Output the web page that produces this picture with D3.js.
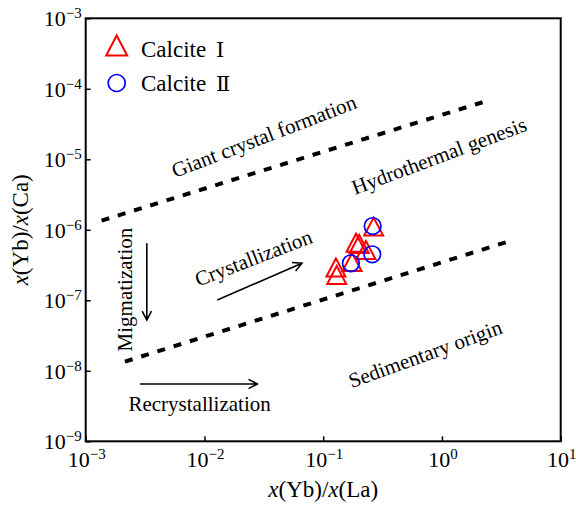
<!DOCTYPE html>
<html><head><meta charset="utf-8">
<script src="https://cdn.jsdelivr.net/npm/d3@7"></script>
<style>
body{margin:0;background:#fff}
svg{display:block}
text{font-family:"Liberation Serif","Times New Roman",Times,serif;fill:#000}
</style>
</head><body>
<svg id="chart" width="576" height="505"></svg>
<script>
// ---- data ----
const xTickExps = [-3, -2, -1, 0, 1];
const yTickExps = [-9, -8, -7, -6, -5, -4, -3];

const calciteIx = [0.266, 0.189, 0.201, 0.229, 0.175, 0.128, 0.130];
const calciteIy = [1.11e-6, 6.56e-7, 6.29e-7, 5.17e-7, 3.49e-7, 2.92e-7, 2.29e-7];
const calciteIIx = [0.261, 0.259, 0.171];
const calciteIIy = [1.13e-6, 4.49e-7, 3.35e-7];

// boundary lines (x, y pairs at ends)
const upperLineX = [1.36e-3, 2.5];
const upperLineY = [1.35e-6, 6.9e-5];
const lowerLineX = [2.14e-3, 3.8];
const lowerLineY = [1.35e-8, 7.0e-7];

// annotation labels (data coords of baseline start, rotation)
const labelTexts = ["Giant crystal formation", "Hydrothermal genesis", "Crystallization", "Sedimentary origin", "Recrystallization"];
const labelX = [5.65e-3, 0.185, 8.87e-3, 0.174, 2.29e-3];
const labelY = [5.43e-6, 3.12e-6, 1.56e-7, 5.65e-9, 2.69e-9];
const labelAngle = [-21, -20.5, -21, -20, 0];

const migText = "Migmatization";
const migX = 2.45e-3, migY = 1.42e-7;

// arrows: [x1, y1, x2, y2]
const arrowX1 = [0.01282, 3.27e-3, 2.86e-3];
const arrowY1 = [1.01e-7, 6.44e-7, 6.5e-9];
const arrowX2 = [0.0662, 3.27e-3, 0.0279];
const arrowY2 = [3.35e-7, 5.25e-8, 6.5e-9];

const legendNames = ["Calcite", "Calcite"];
const legendNumerals = ["\u2160", "\u2161"];

// ---- layout ----
const svg = d3.select("#chart");
const L = 85.7, R = 560.7, T = 18.3, B = 441.3;
const x = d3.scaleLog().domain([1e-3, 1e1]).range([L, R]);
const y = d3.scaleLog().domain([1e-9, 1e-3]).range([B, T]);
const SERIF = '"Liberation Serif","Times New Roman",Times,serif';

// ticks (inward)
const xAxis = d3.axisBottom(x).tickValues(xTickExps.map(e => Math.pow(10, e))).tickSize(-5).tickFormat("");
const yAxis = d3.axisLeft(y).tickValues(yTickExps.map(e => Math.pow(10, e))).tickSize(-5).tickFormat("");
const gx = svg.append("g").attr("transform", `translate(0,${B})`).call(xAxis);
const gy = svg.append("g").attr("transform", `translate(${L},0)`).call(yAxis);
[gx, gy].forEach(g => {
  g.select(".domain").remove();
  g.selectAll(".tick line").attr("stroke", "#000").attr("stroke-width", 1.5);
});

// frame
svg.append("rect").attr("x", L).attr("y", T).attr("width", R - L).attr("height", B - T)
  .attr("fill", "none").attr("stroke", "#000").attr("stroke-width", 2);

// tick labels
function powLabel(sel, e) {
  sel.append("tspan").text("10");
  sel.append("tspan").attr("dy", -8).attr("font-size", 15).text(e < 0 ? "\u2212" + (-e) : String(e));
}
xTickExps.forEach(e => {
  const t = svg.append("text").attr("x", x(Math.pow(10, e)) + 1).attr("y", B + 25.5)
    .attr("font-family", SERIF).attr("font-size", 22).attr("text-anchor", "middle");
  powLabel(t, e);
});
yTickExps.forEach(e => {
  const t = svg.append("text").attr("x", L - 4).attr("y", y(Math.pow(10, e)) + 7.7)
    .attr("font-family", SERIF).attr("font-size", 22).attr("text-anchor", "end");
  powLabel(t, e);
});

// axis titles
const xt = svg.append("text").attr("x", (L + R) / 2).attr("y", 497).attr("text-anchor", "middle")
  .attr("font-family", SERIF).attr("font-size", 23);
xt.append("tspan").attr("font-style", "italic").text("x");
xt.append("tspan").text("(Yb)/");
xt.append("tspan").attr("font-style", "italic").text("x");
xt.append("tspan").text("(La)");

const yt = svg.append("text").attr("transform", `translate(28,${(T + B) / 2}) rotate(-90)`).attr("text-anchor", "middle")
  .attr("font-family", SERIF).attr("font-size", 23);
yt.append("tspan").attr("font-style", "italic").text("x");
yt.append("tspan").text("(Yb)/");
yt.append("tspan").attr("font-style", "italic").text("x");
yt.append("tspan").text("(Ca)");

// dashed boundary lines
[[upperLineX, upperLineY], [lowerLineX, lowerLineY]].forEach(([lx, ly]) => {
  svg.append("line")
    .attr("x1", x(lx[0])).attr("y1", y(ly[0]))
    .attr("x2", x(lx[1])).attr("y2", y(ly[1]))
    .attr("stroke", "#000").attr("stroke-width", 4).attr("stroke-dasharray", "8 9");
});

// annotation labels
labelTexts.forEach((s, i) => {
  svg.append("text")
    .attr("transform", `translate(${x(labelX[i])},${y(labelY[i])}) rotate(${labelAngle[i]})`)
    .attr("font-family", SERIF).attr("font-size", 21).text(s);
});
svg.append("text")
  .attr("transform", `translate(${x(migX)},${y(migY)}) rotate(-90)`)
  .attr("font-family", SERIF).attr("text-anchor", "middle").attr("font-size", 21).text(migText);

// arrows
arrowX1.forEach((_, i) => {
  const x1 = x(arrowX1[i]), y1 = y(arrowY1[i]), x2 = x(arrowX2[i]), y2 = y(arrowY2[i]);
  const a = Math.atan2(y2 - y1, x2 - x1);
  const hl = 10, ha = Math.PI / 6.5;
  const p = d3.path();
  p.moveTo(x1, y1); p.lineTo(x2, y2);
  p.moveTo(x2 - hl * Math.cos(a - ha), y2 - hl * Math.sin(a - ha));
  p.lineTo(x2, y2);
  p.lineTo(x2 - hl * Math.cos(a + ha), y2 - hl * Math.sin(a + ha));
  svg.append("path").attr("d", p.toString()).attr("fill", "none")
    .attr("stroke", "#000").attr("stroke-width", 1.6);
});

// markers
function triPath(w, h) { return `M0,${-h / 2}L${w / 2},${h / 2}L${-w / 2},${h / 2}Z`; }
svg.append("g").selectAll("path").data(d3.range(calciteIx.length)).join("path")
  .attr("d", triPath(19, 18))
  .attr("transform", i => `translate(${x(calciteIx[i])},${y(calciteIy[i])})`)
  .attr("fill", "none").attr("stroke", "#ff0000").attr("stroke-width", 2);
svg.append("g").selectAll("circle").data(d3.range(calciteIIx.length)).join("circle")
  .attr("cx", i => x(calciteIIx[i])).attr("cy", i => y(calciteIIy[i])).attr("r", 8.3)
  .attr("fill", "none").attr("stroke", "#0000ff").attr("stroke-width", 1.7);

// legend
svg.append("path").attr("d", triPath(21, 20)).attr("transform", "translate(116.7,45.5)")
  .attr("fill", "none").attr("stroke", "#ff0000").attr("stroke-width", 2);
svg.append("circle").attr("cx", 116.7).attr("cy", 83).attr("r", 8.5)
  .attr("fill", "none").attr("stroke", "#0000ff").attr("stroke-width", 1.7);
[56.5, 90.5].forEach((yy, i) => {
  const t = svg.append("text").attr("x", 141).attr("y", yy).attr("font-family", SERIF).attr("font-size", 23);
  t.append("tspan").text(legendNames[i]);
  t.append("tspan").attr("x", 216).attr("font-family", '"DejaVu Serif","Liberation Serif",serif').attr("font-size", 21).text(legendNumerals[i]);
});
</script>
</body></html>
